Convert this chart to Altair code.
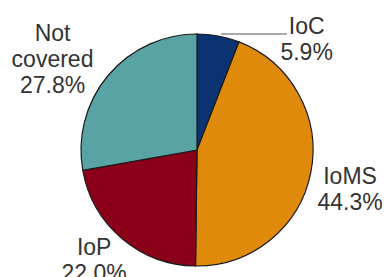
import altair as alt
import pandas as pd

categories = ["IoC", "IoMS", "IoP", "Not covered"]
shares = [5.9, 44.3, 22.0, 27.8]
colors = ["#0b3371", "#e08a0c", "#8a0019", "#5aa3a5"]

df = pd.DataFrame({"cat": categories, "share": shares, "order": list(range(len(categories)))})

CX, CY = 189, 142
R = 116

base = alt.Chart(df).encode(
    theta=alt.Theta("share:Q", stack=True),
    order=alt.Order("order:Q"),
    x=alt.value(CX),
    y=alt.value(CY),
)

arcs = base.mark_arc(outerRadius=R, stroke="#1a1a1a", strokeWidth=1.2).encode(
    color=alt.Color("cat:N", scale=alt.Scale(domain=categories, range=colors), legend=None)
)

label_style = {
    "IoC": (150, 82, 24),
    "IoMS": (160, -4, -3),
    "IoP": (145, -9, -13),
    "Not covered": (165, -18, -10),
}

layers = [arcs]
for c in categories:
    r, dx, dy = label_style[c]
    layers.append(
        base.transform_calculate(
            label="replace(datum.cat, ' ', '\\n') + '\\n' + format(datum.share, '.1f') + '%'"
        ).mark_text(
            radius=r, dx=dx, dy=dy, fontSize=23, lineHeight=26, font="Liberation Sans",
            color="#333333", align="center", baseline="middle", lineBreak="\n"
        ).encode(
            text=alt.condition(f"datum.cat == '{c}'", alt.Text("label:N"), alt.value(""))
        )
    )

leader = alt.Chart(pd.DataFrame({"a": [0]})).mark_rule(color="#555555", strokeWidth=1).encode(
    x=alt.value(213), x2=alt.value(279), y=alt.value(26)
)
layers.append(leader)

chart = alt.layer(*layers).properties(
    width=375, height=269, padding=0,
    autosize=alt.AutoSizeParams(type="none"),
).configure_view(stroke=None)

chart.save("out.html", embed_options={"renderer": "svg", "actions": False})
